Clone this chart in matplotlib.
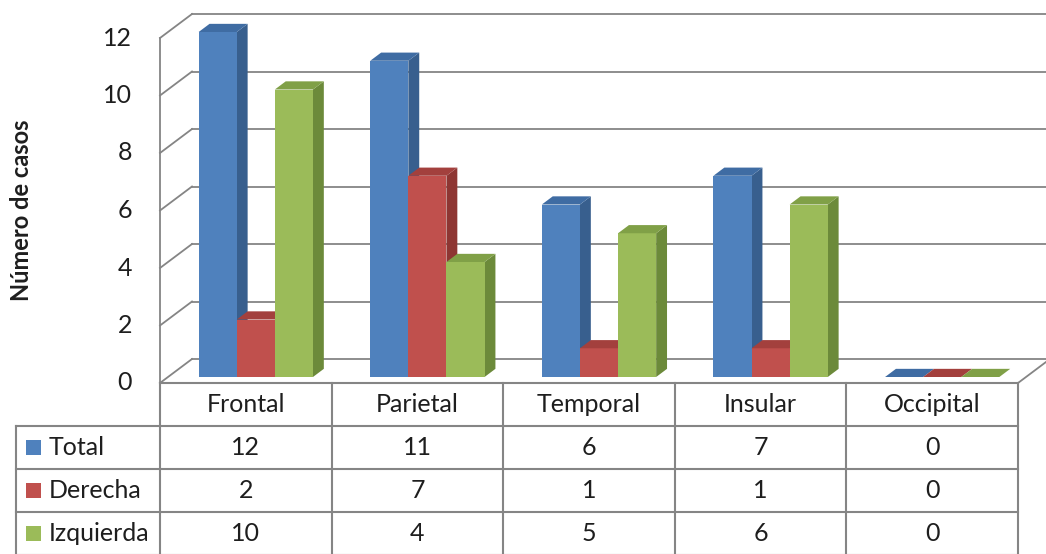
import matplotlib
matplotlib.use("Agg")
import matplotlib.pyplot as plt
from matplotlib.patches import Polygon, Rectangle

# ---- data ----
categories = ["Frontal", "Parietal", "Temporal", "Insular", "Occipital"]
series_names = ["Total", "Derecha", "Izquierda"]
total = [12, 11, 6, 7, 0]
derecha = [2, 7, 1, 1, 0]
izquierda = [10, 4, 5, 6, 0]
y_ticks = [0, 2, 4, 6, 8, 10, 12]
y_label = "Número de casos"

series_values = [total, derecha, izquierda]
front_colors = ["#4F81BD", "#C0504D", "#9BBB59"]
side_colors = ["#385F8E", "#8E3633", "#6C8A3A"]
top_colors = ["#3F6CA3", "#A3403D", "#80A047"]

plt.rcParams["font.family"] = ["Lato", "DejaVu Sans"]
TXT = "#1e1e1e"
GRID = "#858585"
FS = 18

W, H, DPI = 1046, 554, 100
fig = plt.figure(figsize=(W / DPI, H / DPI), dpi=DPI)
ax = fig.add_axes([0, 0, 1, 1])
ax.set_axis_off()

# front plane: category -0.5..4.5 spans pixel 160..1018, value 0..12 spans 383..38
px_cat = (1018 - 160) / len(categories)
px_val = (383 - 38) / 12.0
x_left = -0.5 - 160 / px_cat
x_right = len(categories) - 0.5 + (W - 1018) / px_cat
y_bottom = -(H - 383) / px_val
y_top = 383 / px_val
ax.set_xlim(x_left, x_right)
ax.set_ylim(y_bottom, y_top)

# wall depth vector (32 px right, 24 px up)
DX = 32 / px_cat
DY = 24 / px_val
n = len(categories)

# back wall grid lines and side-wall diagonals
for v in y_ticks:
    ax.plot([-0.5, -0.5 + DX], [v, v + DY], color=GRID, lw=1.3, zorder=1)
    ax.plot([-0.5 + DX, x_right], [v + DY, v + DY], color=GRID, lw=1.3, zorder=1)
    ax.text(-0.5 - 28 / px_cat, v, str(v), ha="right", va="center",
            fontsize=FS, color=TXT)
ax.plot([-0.5, -0.5], [0, 12], color=GRID, lw=1.3, zorder=1)
ax.plot([n - 0.5, n - 0.5 + DX], [0, DY], color=GRID, lw=1.3, zorder=1)

# 3D columns
bar_w = 0.222
d0, d1 = 0.25, 0.34
ox, oy = d0 * DX + 2 / px_cat, d0 * DY
bx, by = d1 * DX, d1 * DY
for i in range(n):
    for s, vals in enumerate(series_values):
        x0 = i + (s - 1.5) * bar_w + ox
        x1 = x0 + bar_w
        b = oy
        t = oy + vals[i]
        ax.add_patch(Polygon([(x1, b), (x1 + bx, b + by), (x1 + bx, t + by), (x1, t)],
                             closed=True, facecolor=side_colors[s], edgecolor="none",
                             zorder=3))
        ax.add_patch(Rectangle((x0, b), bar_w, vals[i], facecolor=front_colors[s],
                               edgecolor="none", zorder=3))
        ax.add_patch(Polygon([(x0, t), (x1, t), (x1 + bx, t + by), (x0 + bx, t + by)],
                             closed=True, facecolor=top_colors[s], edgecolor="none",
                             zorder=3))

# y-axis title
ax.text(-0.5 - 138 / px_cat, 6.0, y_label, rotation=90, ha="center", va="center",
        fontsize=17, fontweight="bold", color=TXT)

# data table
row_h = 43 / px_val
tbl_left = -0.5 - 144 / px_cat
rows_y = [0 - k * row_h for k in range(5)]
ax.plot([-0.5, n - 0.5], [0, 0], color=GRID, lw=1.5, zorder=2)
for k in range(1, 5):
    ax.plot([tbl_left, n - 0.5], [rows_y[k], rows_y[k]], color=GRID, lw=1.5, zorder=2)
for c in range(n + 1):
    ax.plot([c - 0.5, c - 0.5], [0, rows_y[4]], color=GRID, lw=1.5, zorder=2)
ax.plot([tbl_left, tbl_left], [rows_y[1], rows_y[4]], color=GRID, lw=1.5, zorder=2)

for i, cat in enumerate(categories):
    ax.text(i, -0.5 * row_h, cat, ha="center", va="center", fontsize=FS, color=TXT)
sq_w = 15 / px_cat
sq_h = 15 / px_val
for s, (name, vals) in enumerate(zip(series_names, series_values)):
    yc = rows_y[s + 1] - 0.5 * row_h
    ax.add_patch(Rectangle((tbl_left + 10 / px_cat, yc - sq_h / 2), sq_w, sq_h,
                           facecolor=front_colors[s], edgecolor="none"))
    ax.text(tbl_left + 33 / px_cat, yc, name, ha="left", va="center",
            fontsize=FS, color=TXT)
    for i, v in enumerate(vals):
        ax.text(i, yc, str(v), ha="center", va="center", fontsize=FS, color=TXT)

fig.savefig("out.png", dpi=DPI)
